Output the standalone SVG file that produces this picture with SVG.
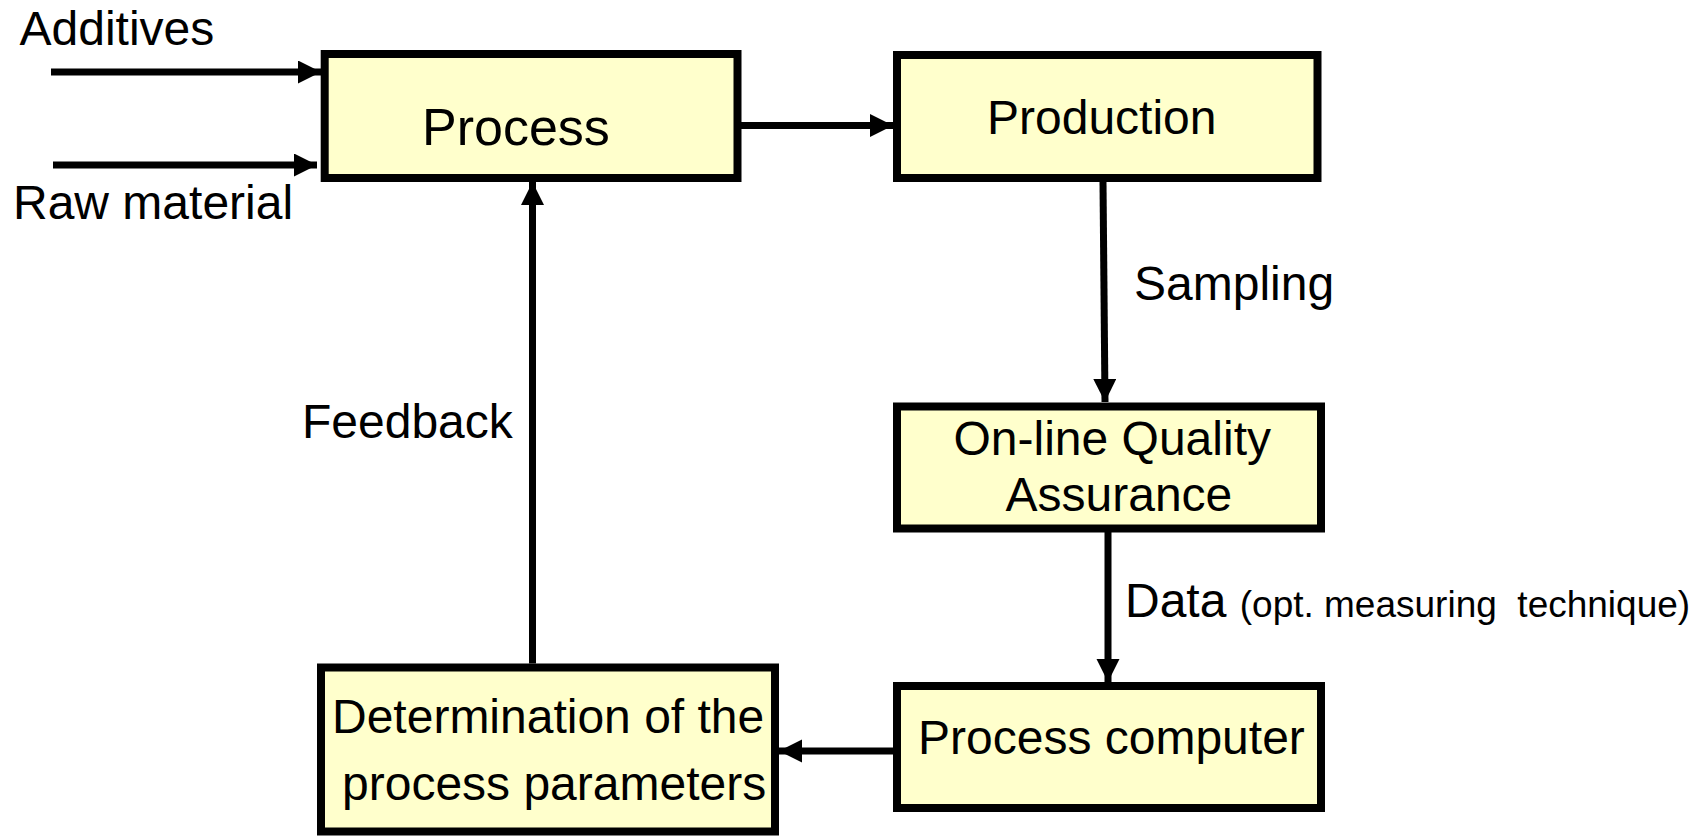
<svg xmlns="http://www.w3.org/2000/svg" width="1697" height="836" viewBox="0 0 1697 836">
<style>
.box{fill:#FFFFCC;stroke:#000;stroke-width:8}
.t{font-family:"Liberation Sans",Arial,sans-serif;font-size:48px;fill:#000}
.s{font-size:37px}
.c{fill:none;stroke:#000;stroke-width:7}
</style>
<defs>
<marker id="ah" markerUnits="userSpaceOnUse" markerWidth="24" markerHeight="24" refX="23" refY="11.5" orient="auto" viewBox="0 0 24 24">
<path d="M0,0 L23,11.5 L0,23 Z" fill="#000"/>
</marker>
</defs>
<g id="connectors">
<line class="c" x1="51" y1="72" x2="321" y2="72" marker-end="url(#ah)"/>
<line class="c" x1="53" y1="165" x2="317" y2="165" marker-end="url(#ah)"/>
<line class="c" x1="741" y1="125.5" x2="893" y2="125.5" marker-end="url(#ah)"/>
<line class="c" x1="1103" y1="182" x2="1105" y2="402" marker-end="url(#ah)"/>
<line class="c" x1="1108" y1="532" x2="1108" y2="682" marker-end="url(#ah)"/>
<line class="c" x1="893" y1="751" x2="779" y2="751" marker-end="url(#ah)"/>
<line class="c" x1="532.5" y1="663.5" x2="532.5" y2="182" marker-end="url(#ah)"/>
</g>
<g id="labels">
<text class="t" x="19.5" y="45">Additives</text>
<text class="t" x="13" y="219">Raw material</text>
<text class="t" x="1134" y="300">Sampling</text>
<text class="t" x="302" y="438">Feedback</text>
<text class="t" x="1125" y="617" xml:space="preserve">Data <tspan class="s">(opt. measuring  technique)</tspan></text>
</g>
<g id="process">
<rect class="box" x="324.7" y="54" width="412.8" height="124"/>
<text class="t" x="422" y="145" style="font-size:52px">Process</text>
</g>
<g id="production">
<rect class="box" x="897" y="55" width="420.5" height="123"/>
<text class="t" x="987" y="134">Production</text>
</g>
<g id="quality">
<rect class="box" x="897" y="406.5" width="424" height="122"/>
<text class="t" x="953.5" y="454.5">On-line Quality</text>
<text class="t" x="1005.5" y="511">Assurance</text>
</g>
<g id="computer">
<rect class="box" x="897" y="686" width="424" height="122"/>
<text class="t" x="918" y="754">Process computer</text>
</g>
<g id="determination">
<rect class="box" x="321" y="667.5" width="454" height="164"/>
<text class="t" x="332" y="733">Determination of the</text>
<text class="t" x="342" y="800">process parameters</text>
</g>
</svg>
